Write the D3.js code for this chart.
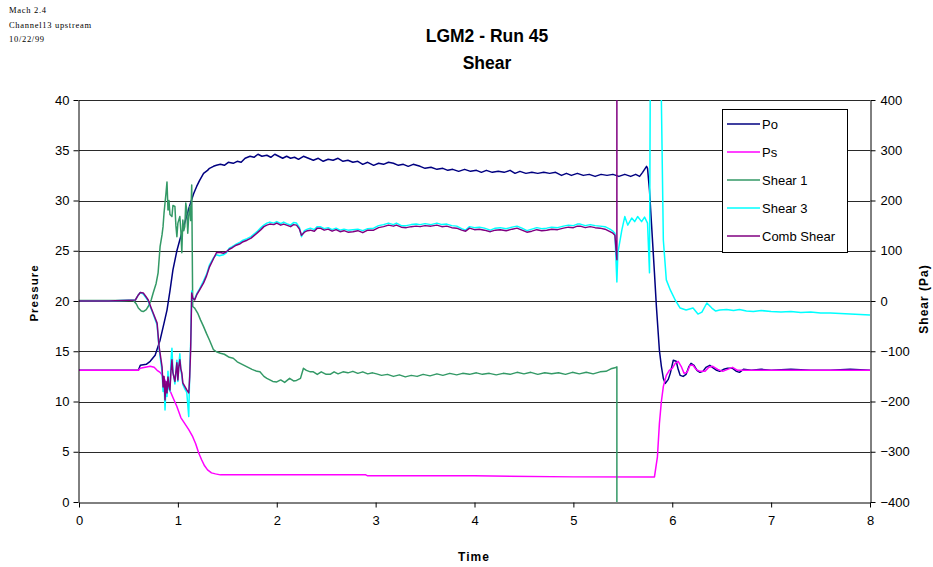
<!DOCTYPE html>
<html>
<head>
<meta charset="utf-8">
<script src="https://cdn.jsdelivr.net/npm/d3@7/dist/d3.min.js"></script>
<style>
body { margin: 0; background: #fff; }
svg { display: block; }
</style>
</head>
<body>
<div id="chart"></div>
<script>
// ---- data (time, value) ----
const noteLines = ['Mach 2.4', 'Channel13 upstream', '10/22/99']
const titleLines = ['LGM2 - Run 45', 'Shear']
const timeTicks = [0, 1, 2, 3, 4, 5, 6, 7, 8]
const pressureTicks = [0, 5, 10, 15, 20, 25, 30, 35, 40]
const shearTicks = [-400, -300, -200, -100, 0, 100, 200, 300, 400]

// pressure series (left axis)
const po = [[0,13.1],[0.3,13.1],[0.6,13.1],[0.62,13.6],[0.68,13.7],[0.72,14.0],[0.77,14.6],[0.82,16.1],[0.86,17.8],[0.89,19.1],[0.92,21.0],[0.95,23.1],[0.99,25.0],[1.02,26.1],[1.07,27.8],[1.12,29.5],[1.16,30.7],[1.19,31.4],[1.22,32.0],[1.26,32.7],[1.30,33.0],[1.32,33.2],[1.36,33.4],[1.39,33.5],[1.43,33.6],[1.47,33.5],[1.51,33.8],[1.56,33.7],[1.60,33.9],[1.64,33.8],[1.68,34.2],[1.73,34.4],[1.77,34.3],[1.81,34.6],[1.85,34.4],[1.90,34.5],[1.94,34.3],[1.98,34.6],[2.02,34.4],[2.06,34.2],[2.10,34.4],[2.14,34.2],[2.18,34.3],[2.22,34.1],[2.27,34.4],[2.32,34.2],[2.37,34.0],[2.42,34.2],[2.47,33.9],[2.52,34.1],[2.57,34.0],[2.62,34.2],[2.67,33.9],[2.72,34.0],[2.77,33.8],[2.82,33.9],[2.87,33.6],[2.92,33.8],[2.98,33.5],[3.03,33.7],[3.08,33.6],[3.13,33.8],[3.18,33.7],[3.23,33.5],[3.28,33.6],[3.33,33.4],[3.38,33.6],[3.45,33.4],[3.50,33.2],[3.56,33.3],[3.62,33.1],[3.68,33.2],[3.73,33.0],[3.78,33.1],[3.84,32.9],[3.90,33.1],[3.96,32.9],[4.02,33.0],[4.07,32.8],[4.12,33.0],[4.18,32.8],[4.24,32.9],[4.30,32.8],[4.36,33.0],[4.41,32.7],[4.46,32.9],[4.52,32.7],[4.58,32.8],[4.64,32.7],[4.70,32.8],[4.76,32.7],[4.82,32.8],[4.88,32.5],[4.93,32.7],[4.98,32.5],[5.04,32.7],[5.10,32.5],[5.16,32.6],[5.22,32.4],[5.28,32.6],[5.34,32.5],[5.40,32.6],[5.46,32.4],[5.52,32.6],[5.58,32.4],[5.63,32.6],[5.67,32.4],[5.70,32.8],[5.74,33.4],[5.75,33.2],[5.77,31.0],[5.79,27.7],[5.82,22.8],[5.84,19.4],[5.87,15.1],[5.89,13.5],[5.91,12.3],[5.93,11.8],[5.96,12.2],[5.98,12.8],[6.01,14.1],[6.04,14.0],[6.06,13.2],[6.08,12.6],[6.11,12.5],[6.14,12.7],[6.17,13.5],[6.19,13.8],[6.22,13.6],[6.25,13.1],[6.28,12.9],[6.31,13.0],[6.34,13.4],[6.38,13.6],[6.42,13.3],[6.45,13.1],[6.48,13.0],[6.52,13.2],[6.56,13.3],[6.61,13.3],[6.65,13.0],[6.68,12.9],[6.72,13.2],[6.80,13.1],[6.90,13.2],[7.00,13.1],[7.20,13.2],[7.40,13.1],[7.60,13.1],[7.80,13.2],[8.00,13.1]]
const ps = [[0,13.1],[0.6,13.1],[0.62,13.3],[0.67,13.4],[0.72,13.5],[0.76,13.4],[0.79,13.1],[0.82,12.9],[0.85,12.5],[0.88,11.9],[0.92,11.1],[0.95,10.4],[0.99,9.5],[1.03,8.4],[1.07,7.8],[1.11,7.2],[1.15,6.5],[1.18,5.8],[1.21,4.9],[1.24,4.2],[1.27,3.6],[1.30,3.2],[1.34,2.9],[1.38,2.8],[1.43,2.7],[2.00,2.7],[2.90,2.7],[2.92,2.6],[3.00,2.6],[4.00,2.6],[5.00,2.5],[5.82,2.5],[5.85,4.5],[5.87,7.8],[5.89,10.0],[5.91,11.5],[5.94,12.6],[5.97,13.1],[6.00,13.3],[6.03,13.8],[6.06,14.0],[6.09,13.5],[6.12,12.8],[6.15,12.9],[6.18,13.6],[6.21,13.6],[6.24,13.2],[6.28,13.0],[6.33,13.0],[6.37,13.4],[6.41,13.5],[6.46,13.2],[6.51,13.0],[6.56,13.2],[6.61,13.4],[6.66,13.1],[6.75,13.1],[7.00,13.1],[7.50,13.1],[8.00,13.1]]

// shear series (right axis)
const shear1 = [[0,1],[0.3,1],[0.55,1],[0.58,-6],[0.60,-14],[0.63,-20],[0.65,-21],[0.68,-17],[0.70,-11],[0.73,2],[0.75,16],[0.78,35],[0.80,56],[0.82,108],[0.84,132],[0.85,148],[0.86,175],[0.87,195],[0.88,215],[0.89,237],[0.90,181],[0.91,200],[0.92,172],[0.94,168],[0.95,190],[0.97,188],[0.98,150],[0.99,128],[1.00,155],[1.02,168],[1.03,140],[1.04,96],[1.05,161],[1.06,140],[1.07,148],[1.08,195],[1.09,181],[1.10,135],[1.11,170],[1.12,188],[1.13,160],[1.14,231],[1.15,-11],[1.17,-14],[1.20,-24],[1.23,-38],[1.26,-51],[1.29,-65],[1.32,-78],[1.36,-97],[1.39,-101],[1.43,-104],[1.47,-106],[1.52,-112],[1.56,-114],[1.60,-121],[1.65,-126],[1.70,-131],[1.75,-136],[1.80,-140],[1.83,-141],[1.87,-150],[1.90,-154],[1.93,-157],[1.96,-160],[2.00,-161],[2.04,-157],[2.08,-162],[2.13,-154],[2.17,-159],[2.20,-158],[2.24,-154],[2.27,-134],[2.30,-138],[2.34,-141],[2.37,-141],[2.41,-146],[2.45,-141],[2.50,-146],[2.54,-146],[2.58,-141],[2.62,-145],[2.67,-141],[2.72,-143],[2.77,-140],[2.82,-144],[2.87,-141],[2.92,-145],[2.97,-143],[3.01,-145],[3.06,-148],[3.12,-146],[3.18,-150],[3.24,-147],[3.30,-151],[3.36,-148],[3.42,-150],[3.48,-146],[3.55,-149],[3.62,-145],[3.68,-148],[3.75,-144],[3.82,-147],[3.88,-144],[3.95,-146],[4.02,-143],[4.08,-146],[4.15,-144],[4.22,-147],[4.29,-144],[4.36,-146],[4.43,-142],[4.50,-145],[4.57,-142],[4.64,-146],[4.71,-143],[4.78,-145],[4.85,-143],[4.92,-146],[4.99,-142],[5.06,-145],[5.13,-142],[5.20,-145],[5.27,-141],[5.33,-140],[5.38,-135],[5.42,-133],[5.44,-131],[5.44,-420]]
const shear3 = [[0,0],[0.3,0],[0.57,2],[0.60,12],[0.62,17],[0.65,14],[0.68,6],[0.70,0],[0.73,-16],[0.75,-26],[0.79,-48],[0.81,-95],[0.84,-140],[0.85,-180],[0.86,-160],[0.87,-217],[0.88,-170],[0.89,-190],[0.90,-140],[0.91,-175],[0.92,-180],[0.93,-120],[0.94,-94],[0.95,-140],[0.97,-165],[0.99,-118],[1.00,-160],[1.01,-125],[1.02,-105],[1.03,-138],[1.04,-148],[1.05,-166],[1.07,-175],[1.09,-182],[1.11,-230],[1.12,-140],[1.13,-80],[1.14,20],[1.15,4],[1.17,4],[1.19,14],[1.22,24],[1.26,40],[1.29,53],[1.32,72],[1.36,86],[1.39,92],[1.42,90],[1.46,92],[1.49,96],[1.52,105],[1.55,108],[1.59,113],[1.63,117],[1.66,121],[1.70,124],[1.74,128],[1.77,133],[1.80,138],[1.84,146],[1.87,151],[1.90,155],[1.93,157],[1.97,155],[2.00,158],[2.04,154],[2.07,157],[2.10,154],[2.14,151],[2.17,156],[2.20,155],[2.23,146],[2.25,128],[2.28,140],[2.31,143],[2.34,145],[2.38,142],[2.41,148],[2.44,148],[2.48,144],[2.52,146],[2.56,142],[2.60,145],[2.64,141],[2.68,143],[2.72,141],[2.77,142],[2.82,143],[2.87,140],[2.92,144],[2.98,145],[3.03,150],[3.08,152],[3.13,155],[3.18,152],[3.21,155],[3.26,150],[3.31,150],[3.36,152],[3.41,153],[3.45,152],[3.50,154],[3.56,152],[3.62,155],[3.67,152],[3.72,153],[3.77,150],[3.82,149],[3.87,144],[3.91,141],[3.95,148],[4.00,146],[4.05,147],[4.10,145],[4.16,141],[4.21,145],[4.26,146],[4.32,144],[4.38,147],[4.43,149],[4.48,145],[4.53,140],[4.58,143],[4.63,146],[4.68,144],[4.73,145],[4.78,147],[4.84,146],[4.90,149],[4.95,151],[5.00,150],[5.04,153],[5.07,153],[5.12,150],[5.17,152],[5.22,150],[5.27,149],[5.32,148],[5.37,143],[5.40,139],[5.42,135],[5.44,38],[5.45,96],[5.49,141],[5.52,168],[5.55,151],[5.59,165],[5.62,158],[5.65,168],[5.69,158],[5.72,167],[5.75,155],[5.77,56],[5.78,560],[5.88,560],[5.89,400],[5.91,121],[5.94,42],[5.98,22],[6.03,2],[6.08,-14],[6.14,-18],[6.21,-14],[6.26,-26],[6.30,-22],[6.35,-4],[6.40,-14],[6.44,-20],[6.48,-18],[6.55,-17],[6.62,-19],[6.68,-17],[6.75,-20],[6.82,-21],[6.90,-19],[7.00,-21],[7.10,-22],[7.20,-21],[7.30,-23],[7.40,-22],[7.50,-24],[7.60,-24],[7.70,-25],[7.80,-26],[7.90,-27],[8.00,-28]]
const combShear = [[0,0],[0.3,0],[0.57,2],[0.60,12],[0.62,17],[0.65,16],[0.68,8],[0.70,2],[0.73,-14],[0.75,-24],[0.79,-44],[0.81,-91],[0.84,-131],[0.85,-171],[0.86,-150],[0.87,-197],[0.88,-160],[0.89,-183],[0.90,-151],[0.91,-170],[0.92,-177],[0.93,-140],[0.94,-117],[0.95,-143],[0.97,-160],[0.99,-123],[1.00,-157],[1.01,-130],[1.02,-117],[1.03,-135],[1.04,-143],[1.05,-163],[1.07,-170],[1.09,-177],[1.11,-183],[1.12,-150],[1.13,-91],[1.14,16],[1.15,6],[1.17,2],[1.19,12],[1.22,22],[1.26,36],[1.29,50],[1.32,68],[1.36,84],[1.39,96],[1.42,97],[1.46,95],[1.49,98],[1.52,103],[1.55,106],[1.59,111],[1.63,114],[1.66,118],[1.70,121],[1.74,125],[1.77,130],[1.80,135],[1.84,142],[1.87,148],[1.90,151],[1.93,153],[1.97,152],[2.00,155],[2.04,151],[2.07,153],[2.10,151],[2.14,148],[2.17,152],[2.20,151],[2.23,143],[2.25,131],[2.28,137],[2.31,140],[2.34,141],[2.38,139],[2.41,145],[2.44,145],[2.48,141],[2.52,143],[2.56,139],[2.60,142],[2.64,138],[2.68,140],[2.72,137],[2.77,138],[2.82,140],[2.87,136],[2.92,141],[2.98,141],[3.03,146],[3.08,148],[3.13,151],[3.18,149],[3.21,151],[3.26,147],[3.31,146],[3.36,148],[3.41,149],[3.45,148],[3.50,150],[3.56,149],[3.62,151],[3.67,148],[3.72,149],[3.77,146],[3.82,145],[3.87,141],[3.91,139],[3.95,145],[4.00,142],[4.05,143],[4.10,141],[4.16,138],[4.21,141],[4.26,142],[4.32,140],[4.38,143],[4.43,145],[4.48,141],[4.53,137],[4.58,139],[4.63,142],[4.68,140],[4.73,141],[4.78,143],[4.84,142],[4.90,145],[4.95,147],[5.00,146],[5.04,149],[5.07,149],[5.12,146],[5.17,148],[5.22,146],[5.27,145],[5.32,143],[5.37,138],[5.40,135],[5.42,131],[5.44,82],[5.44,450]]

const seriesNames = ['Po', 'Ps', 'Shear 1', 'Shear 3', 'Comb Shear']
const seriesColors = ['#000080', '#FF00FF', '#339966', '#00FFFF', '#800080']

function drawChart(selector) {
    const CONFIG = {
        width: 933,
        height: 567,
        font: 'Arial, "Liberation Sans", sans-serif',
        plot: { left: 79, right: 870, top: 100, bottom: 502 },
        lineWidth: 1.5,
    }

    const svg = d3.select(selector)
        .append('svg')
        .attr('width', CONFIG.width)
        .attr('height', CONFIG.height)
        .style('background', '#fff')
        .style('font-family', CONFIG.font)

    const x = d3.scaleLinear().domain([0, 8]).range([CONFIG.plot.left, CONFIG.plot.right])
    const yP = d3.scaleLinear().domain([0, 40]).range([CONFIG.plot.bottom, CONFIG.plot.top])
    const yS = d3.scaleLinear().domain([-400, 400]).range([CONFIG.plot.bottom, CONFIG.plot.top])

    /**
     * Corner notes and title
     */
    svg.append('g')
        .selectAll('text')
        .data(noteLines)
        .enter()
        .append('text')
        .attr('x', 9)
        .attr('y', (d, i) => 13 + i * 14.5)
        .attr('font-family', '"Liberation Serif", "Times New Roman", serif')
        .attr('font-size', 8.5)
        .attr('letter-spacing', 0.7)
        .text(d => d)

    svg.append('g')
        .selectAll('text')
        .data(titleLines)
        .enter()
        .append('text')
        .attr('x', 487)
        .attr('y', (d, i) => 42 + i * 27)
        .attr('text-anchor', 'middle')
        .attr('font-size', 17.5)
        .attr('font-weight', 'bold')
        .text(d => d)

    /**
     * Grid
     */
    svg.append('g')
        .selectAll('line')
        .data(pressureTicks.filter(d => d > 0))
        .enter()
        .append('line')
        .attr('x1', CONFIG.plot.left)
        .attr('x2', CONFIG.plot.right)
        .attr('y1', d => Math.round(yP(d)) + 0.5)
        .attr('y2', d => Math.round(yP(d)) + 0.5)
        .attr('stroke', '#2a2a2a')
        .attr('stroke-width', 1)

    /**
     * Series
     */
    svg.append('clipPath')
        .attr('id', 'plotClip')
        .append('rect')
        .attr('x', CONFIG.plot.left)
        .attr('y', CONFIG.plot.top)
        .attr('width', CONFIG.plot.right - CONFIG.plot.left)
        .attr('height', CONFIG.plot.bottom - CONFIG.plot.top)

    const seriesData = [
        { values: po, y: yP },
        { values: ps, y: yP },
        { values: shear1, y: yS },
        { values: shear3, y: yS },
        { values: combShear, y: yS },
    ]

    const lines = svg.append('g').attr('clip-path', 'url(#plotClip)')
    seriesData.forEach((s, i) => {
        const line = d3.line()
            .x(d => x(d[0]))
            .y(d => s.y(d[1]))
        lines.append('path')
            .attr('d', line(s.values))
            .attr('fill', 'none')
            .attr('stroke', seriesColors[i])
            .attr('stroke-width', CONFIG.lineWidth)
            .attr('stroke-linejoin', 'round')
    })

    /**
     * Axes
     */
    const styleAxis = g => {
        g.selectAll('path, line').attr('stroke', '#000')
        g.selectAll('text')
            .attr('font-size', 13)
            .attr('font-family', CONFIG.font)
            .attr('fill', '#000')
    }

    svg.append('g')
        .attr('transform', `translate(0, ${CONFIG.plot.bottom + 0.5})`)
        .call(d3.axisBottom(x).tickValues(timeTicks).tickSize(5).tickSizeOuter(0).tickPadding(8).tickFormat(d3.format('d')))
        .call(styleAxis)

    svg.append('g')
        .attr('transform', `translate(${CONFIG.plot.left - 0.5}, 0)`)
        .call(d3.axisLeft(yP).tickValues(pressureTicks).tickSize(5).tickSizeOuter(0).tickPadding(4).tickFormat(d3.format('d')))
        .call(styleAxis)

    svg.append('g')
        .attr('transform', `translate(${CONFIG.plot.right + 0.5}, 0)`)
        .call(d3.axisRight(yS).tickValues(shearTicks).tickSize(5).tickSizeOuter(0).tickPadding(5).tickFormat(d3.format('d')))
        .call(styleAxis)

    /**
     * Axis titles
     */
    svg.append('text')
        .attr('transform', 'translate(38, 293) rotate(-90)')
        .attr('text-anchor', 'middle')
        .attr('font-size', 11.5)
        .attr('font-weight', 'bold')
        .attr('letter-spacing', 1)
        .text('Pressure')

    svg.append('text')
        .attr('transform', 'translate(928, 299) rotate(-90)')
        .attr('text-anchor', 'middle')
        .attr('font-size', 12)
        .attr('font-weight', 'bold')
        .attr('letter-spacing', 1)
        .text('Shear (Pa)')

    svg.append('text')
        .attr('x', 474)
        .attr('y', 561)
        .attr('text-anchor', 'middle')
        .attr('font-size', 12)
        .attr('font-weight', 'bold')
        .attr('letter-spacing', 1)
        .text('Time')

    /**
     * Legend
     */
    const legend = svg.append('g').attr('transform', 'translate(722, 109)')
    legend.append('rect')
        .attr('x', 0.5)
        .attr('y', 0.5)
        .attr('width', 125)
        .attr('height', 143)
        .attr('fill', '#fff')
        .attr('stroke', '#000')

    const items = legend.selectAll('.legendItem')
        .data(seriesNames)
        .enter()
        .append('g')
        .attr('class', 'legendItem')
        .attr('transform', (d, i) => `translate(0, ${15 + i * 28})`)

    items.append('line')
        .attr('x1', 5)
        .attr('x2', 38)
        .attr('y1', 0)
        .attr('y2', 0)
        .attr('stroke', (d, i) => seriesColors[i])
        .attr('stroke-width', 1.5)

    items.append('text')
        .attr('x', 40)
        .attr('y', 4.5)
        .attr('font-size', 13)
        .text(d => d)
}

drawChart('#chart')
</script>
</body>
</html>
